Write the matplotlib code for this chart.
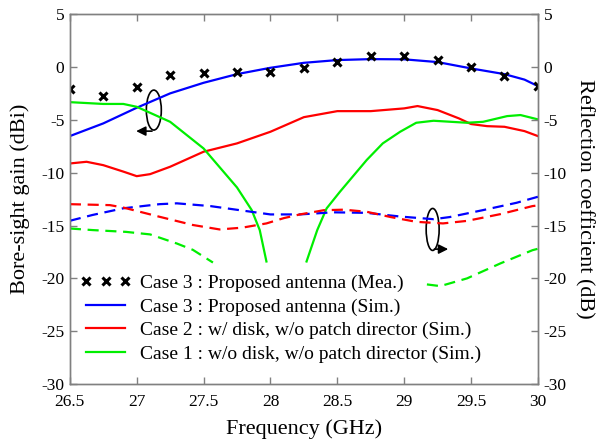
import numpy as np
import matplotlib
matplotlib.use("Agg")
import matplotlib.pyplot as plt
from matplotlib.patches import Ellipse

plt.rcParams['font.family'] = ['Liberation Serif', 'DejaVu Serif']
plt.rcParams['mathtext.fontset'] = 'stix'

# ---- data ----
f_mea = [26.5, 26.75, 27.0, 27.25, 27.5, 27.75, 28.0, 28.25, 28.5, 28.75, 29.0, 29.25, 29.5, 29.75, 30.0]
gain_mea = [-2.12, -2.79, -1.9, -0.8, -0.55, -0.52, -0.52, -0.14, 0.43, 1.06, 1.03, 0.65, -0.01, -0.9, -1.78]

f_c3 = [26.5, 26.75, 27.0, 27.25, 27.5, 27.75, 28.0, 28.25, 28.5, 28.75, 29.0, 29.25, 29.5, 29.75, 29.9, 30.0]
gain_c3 = [-6.54, -5.34, -3.86, -2.5, -1.5, -0.68, -0.08, 0.39, 0.65, 0.74, 0.72, 0.46, -0.14, -0.68, -1.2, -1.81]

f_c2 = [26.5, 26.625, 26.75, 26.9, 27.0, 27.1, 27.25, 27.5, 27.75, 28.0, 28.25, 28.5, 28.75, 29.0, 29.1, 29.25, 29.41, 29.5, 29.62, 29.75, 29.9, 30.0]
gain_c2 = [-9.13, -8.97, -9.29, -9.9, -10.33, -10.14, -9.44, -8.02, -7.23, -6.13, -4.75, -4.18, -4.18, -3.92, -3.7, -4.08, -4.87, -5.4, -5.6, -5.66, -6.07, -6.54]

f_c1 = [26.5, 26.75, 26.9, 27.0, 27.25, 27.5, 27.75, 27.86, 27.92, 27.97, 28.1, 28.27, 28.35, 28.42, 28.52, 28.72, 28.84, 28.97, 29.09, 29.22, 29.47, 29.59, 29.77, 29.87, 30.0]
gain_c1 = [-3.33, -3.5, -3.5, -3.77, -5.19, -7.71, -11.4, -13.54, -15.43, -18.4, np.nan, -18.4, -15.43, -13.38, -11.8, -8.8, -7.23, -6.13, -5.28, -5.09, -5.28, -5.19, -4.65, -4.55, -4.96]

f_s3 = [26.5, 26.67, 26.9, 27.17, 27.3, 27.55, 27.8, 28.0, 28.22, 28.47, 28.72, 28.97, 29.22, 29.34, 29.59, 29.84, 30.0]
s11_c3 = [-14.55, -14.0, -13.37, -12.98, -12.9, -13.16, -13.6, -13.95, -13.95, -13.75, -13.8, -14.15, -14.4, -14.2, -13.54, -12.85, -12.28]

f_s2 = [26.5, 26.8, 26.9, 27.17, 27.42, 27.62, 27.79, 27.97, 28.1, 28.22, 28.4, 28.55, 28.72, 28.9, 29.09, 29.29, 29.47, 29.72, 29.96, 30.0]
s11_c2 = [-12.98, -13.07, -13.3, -14.17, -14.95, -15.37, -15.2, -14.8, -14.3, -13.95, -13.55, -13.5, -13.7, -14.2, -14.65, -14.8, -14.56, -13.92, -13.16, -13.1]

f_s1 = [26.5, 26.67, 26.92, 27.1, 27.3, 27.42, 27.57, 28.4, 29.17, 29.27, 29.47, 29.72, 29.96, 30.0]
s11_c1 = [-15.28, -15.43, -15.6, -15.84, -16.7, -17.3, -18.5, np.nan, -20.57, -20.73, -20.0, -18.58, -17.33, -17.2]

labels = ["Case 3 : Proposed antenna (Mea.)",
          "Case 3 : Proposed antenna (Sim.)",
          "Case 2 : w/ disk, w/o patch director (Sim.)",
          "Case 1 : w/o disk, w/o patch director (Sim.)"]

xticks = [26.5, 27, 27.5, 28, 28.5, 29, 29.5, 30]
yticks = [5, 0, -5, -10, -15, -20, -25, -30]

BLUE = '#0000ff'
RED = '#ff0000'
GREEN = '#00ee00'
SPINE = '#808080'
lw = 1.6
dash = (5, 3)

fig = plt.figure(figsize=(5.97, 4.40), dpi=100)
ax = fig.add_axes([0.117, 0.127, 0.784, 0.841])
ax2 = ax.twinx()

h_mea, = ax.plot(f_mea, gain_mea, linestyle='none', marker='x', color='black',
                 markersize=6, markeredgewidth=2.2, label=labels[0], zorder=5)
h3, = ax.plot(f_c3, gain_c3, color=BLUE, lw=lw, label=labels[1])
h2, = ax.plot(f_c2, gain_c2, color=RED, lw=lw, label=labels[2])
h1, = ax.plot(f_c1, gain_c1, color=GREEN, lw=lw, label=labels[3])

ax2.plot(f_s3, s11_c3, color=BLUE, lw=lw, dashes=dash)
ax2.plot(f_s2, s11_c2, color=RED, lw=lw, dashes=dash)
ax2.plot(f_s1, s11_c1, color=GREEN, lw=lw, dashes=dash)

for a in (ax, ax2):
    a.set_xlim(26.5, 30)
    a.set_ylim(-30, 5)
    a.set_yticks(yticks)
    a.set_yticklabels([str(v) for v in yticks])
    for s in a.spines.values():
        s.set_color(SPINE)
        s.set_linewidth(1.0)
ax.set_xticks(xticks)
ax.set_xticklabels([str(v) for v in xticks])
ax.tick_params(direction='in', length=5, width=1, color=SPINE, labelsize=12.5,
               top=True, right=False, pad=4)
ax.tick_params(axis='x', pad=7)
ax2.tick_params(direction='in', length=5, width=1, color=SPINE, labelsize=12.5, pad=4)

ax.set_xlabel("Frequency (GHz)", fontsize=16, labelpad=7)
ax.set_ylabel("Bore-sight gain (dBi)", fontsize=16, labelpad=8)
ax2.set_ylabel("Reflection coefficient (dB)", fontsize=16, rotation=-90, labelpad=20)

# annotation ellipses & arrows
ax.add_patch(Ellipse((27.128, -4.08), 0.112, 3.78, fill=False, ec='black', lw=1.2))
ax.annotate('', xy=(26.975, -6.07), xytext=(27.135, -6.07),
            arrowprops=dict(arrowstyle='-|>', color='black', lw=1.2, mutation_scale=14))
ax2.add_patch(Ellipse((29.213, -15.37), 0.097, 3.97, fill=False, ec='black', lw=1.2))
ax2.annotate('', xy=(29.35, -17.23), xytext=(29.205, -17.23),
             arrowprops=dict(arrowstyle='-|>', color='black', lw=1.2, mutation_scale=14))

leg = ax.legend(handles=[h_mea, h3, h2, h1], loc='lower left',
                bbox_to_anchor=(-0.006, 0.021), frameon=False, fontsize=14,
                numpoints=3, handlelength=2.6, handletextpad=0.45,
                labelspacing=0.30, borderaxespad=0.3)

fig.savefig('out.png', dpi=100)
